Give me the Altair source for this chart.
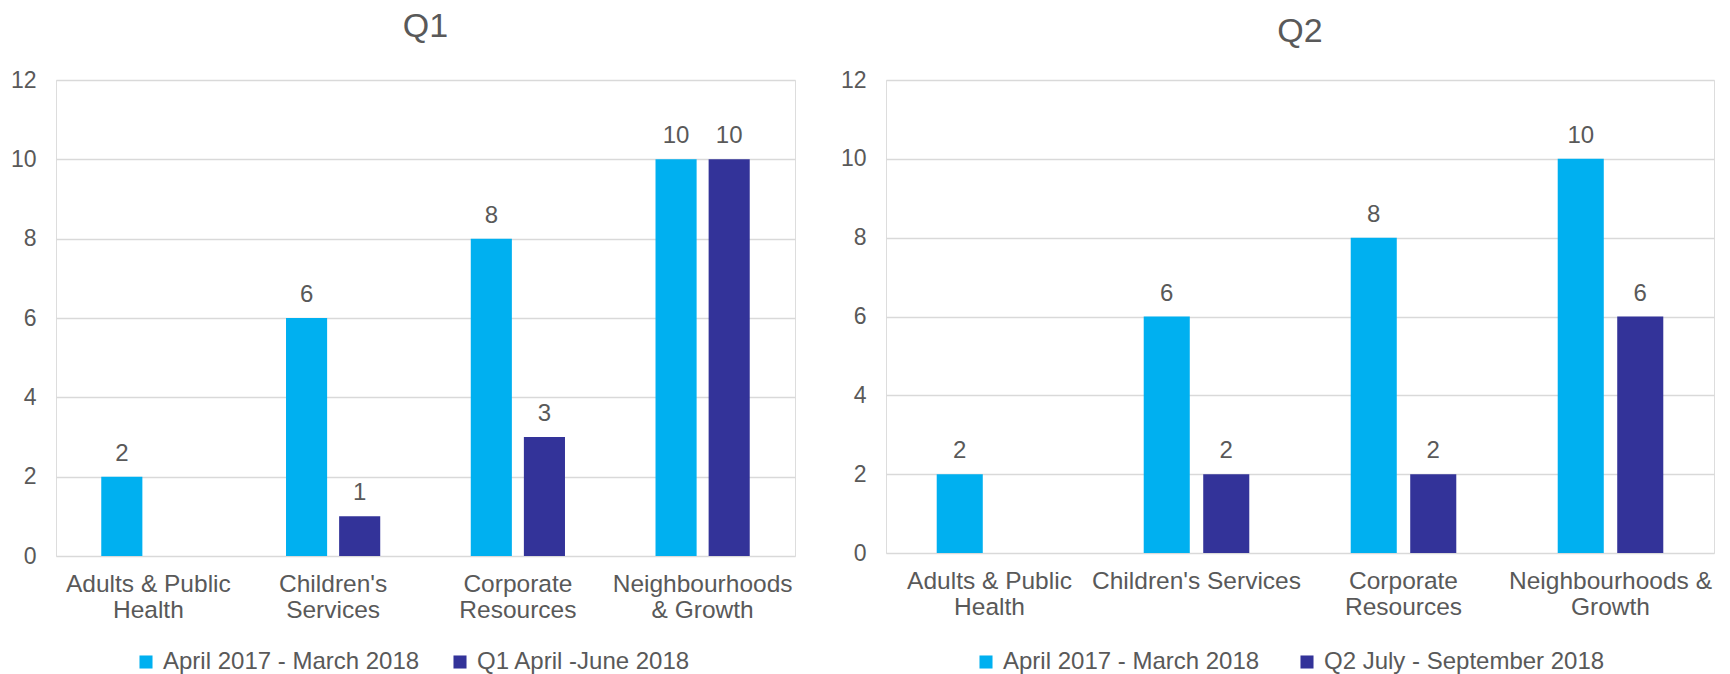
import json
import altair as alt
import pandas as pd

categories = ["Adults & Public Health", "Children's Services", "Corporate Resources", "Neighbourhoods & Growth"]
series_base = "April 2017 - March 2018"
q1_series = "Q1 April -June 2018"
q2_series = "Q2 July - September 2018"
base_values = [2, 6, 8, 10]
q1_values = [None, 1, 3, 10]
q2_values = [None, 2, 2, 6]
y_ticks = [0, 2, 4, 6, 8, 10, 12]
q1_label_lines = [["Adults & Public", "Health"], ["Children's", "Services"],
                  ["Corporate", "Resources"], ["Neighbourhoods", "& Growth"]]
q2_label_lines = [["Adults & Public", "Health"], ["Children's Services"],
                  ["Corporate", "Resources"], ["Neighbourhoods &", "Growth"]]
colors = ["#00B0F0", "#333399"]

FONT = "Liberation Sans"
TEXT = "#595959"


def label_expr(lines):
    expr = "datum.label"
    for cat, ls in reversed(list(zip(categories, lines))):
        expr = f"datum.label == {json.dumps(cat)} ? {json.dumps(ls)} : ({expr})"
    return expr


def panel(title, second_name, second_values, width, height, legend_x, legend_y, lines,
          title_offset, title_dy, col_pad):
    df = pd.DataFrame({
        "category": categories * 2,
        "series": [series_base] * 4 + [second_name] * 4,
        "value": base_values + second_values,
    })
    x = alt.X("category:N", sort=categories, title=None,
              scale=alt.Scale(paddingInner=0.49, paddingOuter=0.245),
              axis=alt.Axis(labelAngle=0, labelExpr=label_expr(lines), labelFontSize=24.5,
                            labelColor=TEXT, labelFont=FONT, labelPadding=16.5,
                            labelLineHeight=26, domain=False, ticks=False, labelLimit=400))
    xo = alt.XOffset("series:N", sort=[series_base, second_name],
                     scale=alt.Scale(domain=[series_base, second_name], paddingInner=0.226, paddingOuter=0))
    y = alt.Y("value:Q", title=None, scale=alt.Scale(domain=[0, 12], nice=False),
              axis=alt.Axis(values=y_ticks, grid=True, gridColor="#D9D9D9", gridWidth=1.3,
                            domain=False, ticks=False, labelFontSize=23, labelColor=TEXT,
                            labelFont=FONT, labelPadding=20))
    color = alt.Color("series:N",
                      scale=alt.Scale(domain=[series_base, second_name], range=colors),
                      legend=alt.Legend(title=None, orient="none", legendX=legend_x, legendY=legend_y,
                                        direction="horizontal", symbolType="square", symbolSize=170,
                                        symbolStrokeWidth=0, labelFontSize=24, labelColor=TEXT,
                                        labelFont=FONT, labelLimit=400, columnPadding=col_pad,
                                        labelOffset=5, padding=0))
    bars = alt.Chart(df).mark_bar().encode(x=x, xOffset=xo, y=y, color=color)
    text = alt.Chart(df).transform_filter("datum.value != null").mark_text(
        baseline="alphabetic", dy=-16, fontSize=24, color=TEXT, font=FONT
    ).encode(x=x, xOffset=xo, y=y, text="value:Q")
    return alt.layer(bars, text).properties(
        width=width, height=height,
        title=alt.Title(title, fontSize=34, font=FONT, color=TEXT, fontWeight="normal",
                        anchor="middle", offset=title_offset, dy=title_dy),
    )


p1 = panel("Q1", q1_series, q1_values, 739, 476, 78, 570, q1_label_lines, 25, 0, 28)
p2 = panel("Q2", q2_series, q2_values, 828, 473, 88, 570, q2_label_lines, 25, 5, 35)

chart = alt.hconcat(p1, p2, spacing=43).resolve_scale(
    color="independent", xOffset="independent"
).properties(
    padding={"left": 9, "top": 9, "right": 5, "bottom": 0}
).configure_view(stroke=None).configure(font=FONT)

chart.save("out.html", embed_options={"renderer": "svg", "actions": False})
